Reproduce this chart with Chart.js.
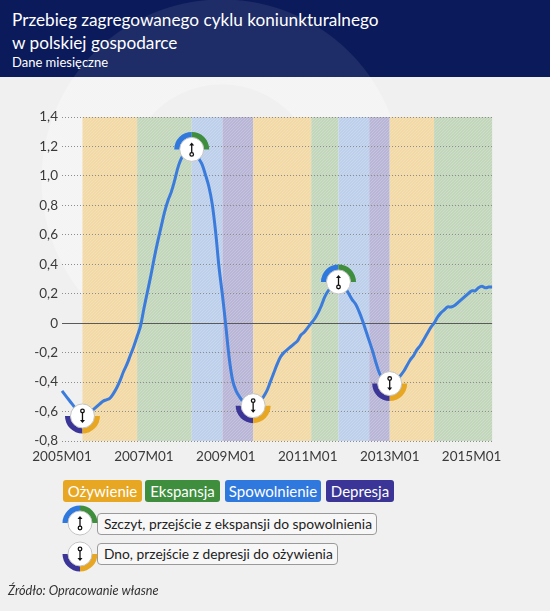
<!DOCTYPE html>
<html lang="pl">
<head>
<meta charset="utf-8">
<script src="https://cdn.jsdelivr.net/npm/chart.js@4.4.1/dist/chart.umd.min.js"></script>
<style>
  html, body { margin: 0; padding: 0; }
  body {
    width: 550px; height: 611px; position: relative; overflow: hidden;
    font-family: Lato, 'Open Sans', sans-serif;
    background:
      radial-gradient(circle at 222px 180px, transparent 95px, rgba(255,255,255,0.3) 96px, rgba(255,255,255,0.3) 180px, transparent 181px),
      #f0f0f0;
  }
  #head {
    position: absolute; left: 0; top: 0; width: 550px; height: 77px;
    background:
      radial-gradient(circle at 222px 180px, transparent 95px, rgba(255,255,255,0.08) 96px, rgba(255,255,255,0.08) 180px, transparent 181px),
      #0b1a5b;
    color: #fff;
  }
  #head h1 { position: absolute; left: 12px; top: 8px; margin: 0; font-size: 17.2px; font-weight: 400; line-height: 23px; }
  #head .sub { position: absolute; left: 12px; top: 54px; font-size: 13px; }
  #chartBox { position: absolute; left: 0; top: 100px; width: 510px; height: 371px; }
  .phase {
    position: absolute; top: 480px; height: 22px; line-height: 22px; border-radius: 3px;
    color: #fff; font-size: 15px; text-align: center;
  }
  .key {
    position: absolute; left: 97px; height: 22px; line-height: 20px; padding: 0 4px 0 6px;
    border: 1px solid #9a9a9a; border-radius: 4px; background: #f7f7f7;
    font-size: 13.8px; color: #222; box-sizing: border-box; white-space: nowrap;
  }
  .icon { position: absolute; width: 40px; height: 40px; }
  #src { position: absolute; left: 8px; top: 582px; font-size: 12.7px; font-style: italic; color: #333; }
</style>
</head>
<body>
<div id="head">
  <h1>Przebieg zagregowanego cyklu koniunkturalnego<br>w polskiej gospodarce</h1>
  <div class="sub">Dane miesięczne</div>
</div>
<div id="chartBox"><canvas id="chart"></canvas></div>

<div class="phase" style="left:63px;width:79px;background:#e8a722">Ożywienie</div>
<div class="phase" style="left:145px;width:75px;background:#3e8e3e">Ekspansja</div>
<div class="phase" style="left:225px;width:96px;background:#2f78dd">Spowolnienie</div>
<div class="phase" style="left:326px;width:68px;background:#3a3596">Depresja</div>

<div class="key" style="top:513px">Szczyt, przejście z ekspansji do spowolnienia</div>
<div class="key" style="top:543px">Dno, przejście z depresji do ożywienia</div>
<canvas class="icon" id="iconPeak" width="40" height="40" style="left:60px;top:503px"></canvas>
<canvas class="icon" id="iconTrough" width="40" height="40" style="left:60px;top:534px"></canvas>

<div id="src">Źródło: Opracowanie własne</div>

<script>
  // categories: monthly, 2005M01 .. 2015M07
  const months = [];
  for (let y = 2005; y <= 2015; y++) {
    for (let m = 1; m <= 12; m++) months.push(y + 'M' + String(m).padStart(2, '0'));
  }
  const categories = months.slice(0, 127);

  const tickLabels = ['2005M01', '2007M01', '2009M01', '2011M01', '2013M01', '2015M01'];

  // aggregated business cycle
  const cycle = [
    -0.46, -0.49, -0.52, -0.55, -0.58, -0.61, -0.63, -0.62, -0.61, -0.59,
    -0.57, -0.55, -0.53, -0.52, -0.51, -0.48, -0.44, -0.39, -0.33, -0.28,
    -0.22, -0.16, -0.09, -0.02, 0.10, 0.21, 0.32, 0.44, 0.55, 0.65,
    0.75, 0.83, 0.89, 0.97, 1.06, 1.12, 1.16, 1.18, 1.18, 1.16,
    1.12, 1.08, 1.01, 0.93, 0.81, 0.62, 0.38, 0.19, -0.02, -0.24,
    -0.39, -0.46, -0.50, -0.53, -0.55, -0.56, -0.56, -0.55, -0.53, -0.50,
    -0.46, -0.40, -0.34, -0.28, -0.23, -0.20, -0.18, -0.16, -0.14, -0.12,
    -0.08, -0.06, -0.03, 0.00, 0.03, 0.07, 0.12, 0.18, 0.22, 0.25,
    0.27, 0.28, 0.27, 0.24, 0.20, 0.16, 0.13, 0.08, 0.02, -0.05,
    -0.12, -0.19, -0.27, -0.34, -0.38, -0.40, -0.41, -0.40, -0.38, -0.36,
    -0.33, -0.29, -0.25, -0.22, -0.18, -0.15, -0.11, -0.07, -0.03, 0.00,
    0.04, 0.07, 0.09, 0.11, 0.11, 0.12, 0.14, 0.16, 0.18, 0.20,
    0.22, 0.22, 0.24, 0.25, 0.24, 0.245, 0.245
  ];

  // phases: start month and kind (o = ożywienie, e = ekspansja, s = spowolnienie, d = depresja)
  const phaseStarts = ['2005M07', '2006M11', '2008M03', '2008M12', '2009M09', '2011M02', '2011M10', '2012M07', '2013M01', '2014M02'];
  const phaseKinds = ['o', 'e', 's', 'd', 'o', 'e', 's', 'd', 'o', 'e'];

  const peaks = ['2008M03', '2011M10'];
  const troughs = ['2005M07', '2009M09', '2013M01'];

  const bandColors = { o: '#f2d9a6', e: '#c2d6bc', s: '#bccfeb', d: '#b8b5d7' };
  const ringColors = { o: '#e8a722', e: '#3e8e3e', s: '#2f78dd', d: '#3a3596' };

  function hatch(ctx, base) {
    const c = document.createElement('canvas');
    c.width = 3; c.height = 3;
    const g = c.getContext('2d');
    g.fillStyle = base;
    g.fillRect(0, 0, 3, 3);
    g.fillStyle = 'rgba(255,255,255,0.2)';
    g.fillRect(0, 2, 1, 1); g.fillRect(1, 1, 1, 1); g.fillRect(2, 0, 1, 1);
    return ctx.createPattern(c, 'repeat');
  }

  function drawMarker(ctx, x, y, isPeak) {
    const rOut = 17.5, rIn = 11;
    const halves = isPeak
      ? [[Math.PI, Math.PI * 1.5, ringColors.s], [Math.PI * 1.5, Math.PI * 2, ringColors.e]]
      : [[Math.PI / 2, Math.PI, ringColors.d], [0, Math.PI / 2, ringColors.o]];
    ctx.save();
    halves.forEach(([a0, a1, col]) => {
      ctx.beginPath();
      ctx.arc(x, y, rOut, a0, a1);
      ctx.arc(x, y, rIn, a1, a0, true);
      ctx.closePath();
      ctx.fillStyle = col;
      ctx.fill();
    });
    ctx.beginPath();
    ctx.arc(x, y, 12, 0, Math.PI * 2);
    ctx.fillStyle = '#fff';
    ctx.fill();
    ctx.lineWidth = 1;
    ctx.strokeStyle = '#c4c4c4';
    ctx.stroke();
    // small arrow glyph
    const d = isPeak ? -1 : 1;
    ctx.strokeStyle = '#111';
    ctx.fillStyle = '#111';
    ctx.lineWidth = 1.3;
    ctx.beginPath();
    ctx.moveTo(x, y - 5 * d);
    ctx.lineTo(x, y + 5 * d);
    ctx.stroke();
    ctx.beginPath();
    ctx.moveTo(x - 2.5, y + 4 * d);
    ctx.lineTo(x + 2.5, y + 4 * d);
    ctx.lineTo(x, y + 7 * d);
    ctx.closePath();
    ctx.fill();
    ctx.beginPath();
    ctx.arc(x, y - 5 * d, 1.8, 0, Math.PI * 2);
    ctx.fillStyle = '#fff';
    ctx.fill();
    ctx.stroke();
    ctx.restore();
  }

  const bandsPlugin = {
    id: 'bands',
    beforeDraw(chart) {
      const { ctx, chartArea, scales } = chart;
      const xs = scales.x;
      ctx.save();
      phaseStarts.forEach((start, i) => {
        const from = categories.indexOf(start);
        const to = i + 1 < phaseStarts.length ? categories.indexOf(phaseStarts[i + 1]) : categories.length - 1;
        const x0 = xs.getPixelForValue(from);
        const x1 = xs.getPixelForValue(to);
        ctx.fillStyle = hatch(ctx, bandColors[phaseKinds[i]]);
        ctx.fillRect(x0, chartArea.top, x1 - x0, chartArea.bottom - chartArea.top);
      });
      ctx.restore();
    },
    afterDatasetsDraw(chart) {
      const meta = chart.getDatasetMeta(0);
      peaks.forEach(m => {
        const p = meta.data[categories.indexOf(m)];
        drawMarker(chart.ctx, p.x, p.y, true);
      });
      troughs.forEach(m => {
        const p = meta.data[categories.indexOf(m)];
        drawMarker(chart.ctx, p.x, p.y, false);
      });
    }
  };

  Chart.defaults.font.family = 'Lato, "Open Sans", sans-serif';
  Chart.defaults.color = '#3a3a3a';

  new Chart(document.getElementById('chart'), {
    type: 'line',
    data: {
      labels: categories,
      datasets: [{
        label: 'Cykl koniunkturalny',
        data: cycle,
        borderColor: '#3a7bdc',
        borderWidth: 3,
        pointRadius: 0,
        tension: 0.35,
        fill: false
      }]
    },
    options: {
      responsive: true,
      maintainAspectRatio: false,
      animation: false,
      layout: { padding: { top: 17, right: 13, left: 0, bottom: 0 } },
      plugins: { legend: { display: false }, tooltip: { enabled: false } },
      scales: {
        x: {
          offset: false,
          grid: { display: false, drawTicks: false },
          border: { display: false },
          ticks: {
            autoSkip: false,
            maxRotation: 0,
            padding: 8,
            font: { size: 13.5 },
            callback(value) {
              const lbl = categories[value];
              return tickLabels.includes(lbl) ? lbl : null;
            }
          },
          afterFit(scale) { scale.height = 30; }
        },
        y: {
          min: -0.8,
          max: 1.4,
          grid: {
            drawTicks: false,
            color: ctx => (ctx.tick && ctx.tick.value === 0 ? '#5a5a5a' : '#8d8d8d'),
            lineWidth: 1
          },
          border: {
            display: false,
            dash: ctx => (ctx.tick && ctx.tick.value === 0 ? [] : [1, 2])
          },
          ticks: {
            stepSize: 0.2,
            padding: 4,
            font: { size: 13.5 },
            callback(v) {
              const r = Math.round(v * 10) / 10;
              return r === 0 ? '0' : r.toFixed(1).replace('.', ',');
            }
          },
          afterFit(scale) { scale.width = 62; }
        }
      }
    },
    plugins: [bandsPlugin]
  });

  drawMarker(document.getElementById('iconPeak').getContext('2d'), 20, 20, true);
  drawMarker(document.getElementById('iconTrough').getContext('2d'), 20, 20, false);
</script>
</body>
</html>
